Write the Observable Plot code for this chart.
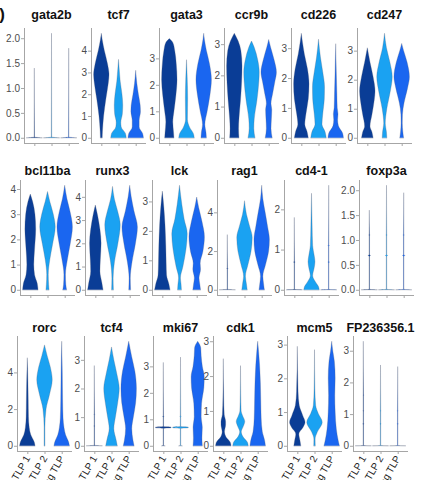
<!DOCTYPE html>
<html><head><meta charset="utf-8">
<script src="https://cdn.jsdelivr.net/npm/d3@7"></script>
<script src="https://cdn.jsdelivr.net/npm/@observablehq/plot@0.6"></script>
<style>
body{margin:0;background:#fff;}
#chart{position:relative;width:421px;height:480px;overflow:hidden;font-family:"Liberation Sans",Arial,sans-serif;}
.ttl{position:absolute;width:90px;text-align:center;font-weight:bold;font-size:12.5px;color:#111;line-height:14px;white-space:nowrap;}
.pnl{position:absolute;}
.tag{position:absolute;left:-25px;top:5px;width:30px;text-align:right;font-weight:bold;font-size:17px;color:#111;}
</style></head><body><div id="chart"></div>
<script>
// ---- data ----
const groups = ["TLP 1", "TLP 2", "cycling TLP"];
const colors = ["#0a3d96", "#1aa2f2", "#1a66f0"];
const genes = ["gata2b","tcf7","gata3","ccr9b","cd226","cd247",
               "bcl11ba","runx3","lck","rag1","cd4-1","foxp3a",
               "rorc","tcf4","mki67","cdk1","mcm5","FP236356.1"];
const tickSteps = [0.5,1,1,1,1,1, 1,1,1,2,1,0.5, 2,1,1,1,1,1];

// violin profiles: [expression, relative half-width] per group (TLP 1, TLP 2, cycling TLP)
const gata2b = [
  [[0,1],[0.015,0.03],[1.4,0]],
  [[0,1],[0.015,0.03],[2.1,0]],
  [[0,1],[0.015,0.03],[1.8,0]]];
const tcf7 = [
  [[0,0.12],[0.3,0.15],[1,0.3],[1.8,0.6],[2.5,0.9],[2.9,1],[3.4,0.8],[4,0.4],[4.5,0.12],[4.8,0]],
  [[0,1],[0.2,0.9],[0.5,0.35],[0.7,0.3],[1.1,0.5],[1.5,0.55],[2.0,0.45],[2.6,0.22],[3.2,0.08],[3.6,0]],
  [[0,1],[0.2,0.9],[0.5,0.45],[0.8,0.45],[1.2,0.62],[1.5,0.58],[2.0,0.35],[2.5,0.15],[3.1,0]]];
const gata3 = [
  [[0,0.6],[0.2,0.55],[0.6,0.45],[1.0,0.6],[1.6,0.85],[2.2,1],[2.8,0.9],[3.3,0.7],[3.6,0.45],[3.75,0]],
  [[0,1],[0.15,0.9],[0.4,0.4],[0.7,0.12],[1.5,0.15],[2.2,0.1],[2.95,0]],
  [[0,0.35],[0.2,0.3],[0.5,0.15],[1.0,0.45],[1.6,0.8],[2.2,1],[2.8,0.75],[3.3,0.35],[3.7,0.1],[3.95,0]]];
const ccr9b = [
  [[0,0.6],[0.3,0.55],[0.6,0.6],[1.2,0.8],[1.8,0.95],[2.3,1],[2.8,0.85],[3.1,0.5],[3.35,0]],
  [[0,0.45],[0.3,0.3],[0.6,0.35],[1.2,0.7],[1.8,0.95],[2.1,1],[2.5,0.8],[2.9,0.35],[3.1,0]],
  [[0,0.45],[0.3,0.3],[0.6,0.35],[0.9,0.4],[1.1,0.3],[1.4,0.5],[1.8,0.8],[2.1,1],[2.5,0.7],[2.9,0.25],[3.15,0]]];
const cd226 = [
  [[0,0.9],[0.2,0.75],[0.45,0.45],[0.8,0.6],[1.3,0.9],[1.8,1],[2.3,0.8],[2.8,0.4],[3.2,0.15],[3.5,0]],
  [[0,1],[0.2,0.85],[0.45,0.45],[0.8,0.55],[1.3,0.75],[1.7,0.78],[2.2,0.55],[2.7,0.25],[3.3,0]],
  [[0,1],[0.15,0.9],[0.4,0.35],[0.6,0.25],[0.8,0.3],[1.0,0.2],[1.5,0.15],[2.2,0.08],[3.15,0]]];
const cd247 = [
  [[0,0.75],[0.2,0.6],[0.4,0.35],[0.8,0.6],[1.3,0.9],[1.6,1],[2.1,0.75],[2.6,0.35],[3.1,0]],
  [[0,0.3],[0.2,0.25],[0.5,0.1],[1.0,0.3],[1.6,0.75],[2.1,1],[2.6,0.7],[3.1,0.25],[3.6,0]],
  [[0,0.25],[0.2,0.15],[0.5,0.08],[0.8,0.1],[1.2,0.3],[1.7,0.75],[2.1,1],[2.6,0.7],[3.0,0.25],[3.25,0]]];
const bcl11ba = [
  [[0,1],[0.25,0.9],[0.6,0.55],[1.0,0.45],[1.6,0.55],[2.4,0.7],[3.0,0.6],[3.5,0.3],[3.8,0]],
  [[0,0.2],[0.2,0.15],[0.6,0.1],[1.2,0.3],[1.8,0.65],[2.5,1],[3.0,0.75],[3.5,0.3],[3.9,0]],
  [[0,0.25],[0.2,0.15],[0.6,0.1],[1.2,0.35],[1.8,0.7],[2.5,1],[3.1,0.7],[3.6,0.3],[4.15,0]]];
const runx3 = [
  [[0,1],[0.3,0.85],[0.8,0.6],[1.3,0.65],[2.0,0.75],[2.6,0.6],[3.2,0.3],[3.65,0]],
  [[0,0.12],[0.5,0.08],[1.2,0.25],[2.0,0.7],[2.8,1],[3.4,0.65],[3.9,0.25],[4.45,0]],
  [[0,0.12],[0.5,0.08],[1.2,0.3],[2.0,0.75],[2.7,1],[3.4,0.55],[4.0,0.2],[4.5,0]]];
const lck = [
  [[0,1],[0.2,0.85],[0.5,0.55],[0.9,0.5],[1.5,0.45],[2.2,0.35],[2.8,0.2],[3.35,0]],
  [[0,0.25],[0.2,0.2],[0.4,0.12],[0.8,0.45],[1.4,0.85],[1.9,1],[2.4,0.6],[2.9,0.3],[3.55,0]],
  [[0,0.5],[0.2,0.4],[0.4,0.3],[0.7,0.5],[0.9,0.45],[1.3,0.8],[1.8,1],[2.3,0.7],[2.8,0.25],[3.15,0]]];
const rag1 = [
  [[0,1],[0.03,0.03],[1.07,0.03],[1.1,0.08],[1.13,0.03],[2.85,0]],
  [[0,0.35],[0.3,0.25],[0.7,0.12],[1.3,0.45],[2.0,0.85],[2.7,1],[3.3,0.65],[3.9,0.25],[4.6,0]],
  [[0,0.35],[0.3,0.25],[0.7,0.15],[1.3,0.5],[2.0,0.9],[2.6,1],[3.3,0.75],[4.0,0.45],[4.7,0.15],[5.4,0]]];
const cd4_1 = [
  [[0,1],[0.01,0.03],[0.67,0.03],[0.69,0.1],[0.71,0.03],[1.8,0]],
  [[0,1],[0.08,0.9],[0.2,0.5],[0.35,0.15],[0.55,0.35],[0.7,0.45],[0.85,0.35],[1.1,0.15],[1.6,0.08],[2.4,0]],
  [[0,1],[0.01,0.03],[0.67,0.03],[0.69,0.1],[0.71,0.03],[1.08,0.03],[1.1,0.08],[1.12,0.03],[2.6,0]]];
const foxp3a = [
  [[0,1],[0.01,0.03],[0.67,0.03],[0.69,0.14],[0.71,0.03],[1.08,0.03],[1.1,0.06],[1.12,0.03],[1.6,0]],
  [[0,1],[0.01,0.03],[0.67,0.03],[0.69,0.14],[0.71,0.03],[1.08,0.03],[1.1,0.06],[1.12,0.03],[2.1,0]],
  [[0,1],[0.01,0.03],[0.67,0.03],[0.69,0.14],[0.71,0.03],[1.08,0.03],[1.1,0.06],[1.12,0.03],[1.95,0]]];
const rorc = [
  [[0,1],[0.2,0.9],[0.6,0.45],[1.0,0.25],[1.6,0.15],[2.5,0.12],[3.5,0.08],[4.8,0]],
  [[0,0.05],[1.0,0.05],[2.0,0.2],[2.8,0.65],[3.6,1],[4.3,0.75],[4.9,0.35],[5.5,0]],
  [[0,1],[0.2,0.9],[0.6,0.5],[1.0,0.3],[1.5,0.18],[2.5,0.12],[4.0,0.08],[5.7,0]]];
const tcf4 = [
  [[0,1],[0.02,0.03],[0.67,0.03],[0.69,0.08],[0.71,0.03],[1.08,0.03],[1.1,0.06],[1.12,0.03],[2.8,0]],
  [[0,0.75],[0.2,0.6],[0.6,0.3],[1.0,0.5],[1.5,0.8],[2.0,1],[2.5,0.7],[3.0,0.3],[3.45,0]],
  [[0,0.7],[0.2,0.55],[0.6,0.4],[1.0,0.6],[1.5,0.9],[2.0,1],[2.6,0.8],[3.1,0.4],[3.65,0]]];
const mki67 = [
  [[0,0.2],[0.02,0.03],[0.66,0.03],[0.68,1],[0.71,1],[0.73,0.03],[1.08,0.03],[1.1,0.1],[1.12,0.03],[3.15,0]],
  [[0,0.2],[0.02,0.03],[0.66,0.03],[0.68,1],[0.71,1],[0.73,0.03],[1.08,0.03],[1.1,0.1],[1.12,0.03],[3.35,0]],
  [[0,0.6],[0.3,0.55],[0.7,0.6],[1.1,0.45],[1.6,0.5],[2.2,0.8],[2.6,0.85],[3.0,0.6],[3.4,0.45],[3.7,0.4],[3.95,0]]];
const cdk1 = [
  [[0,1],[0.1,0.9],[0.25,0.35],[0.4,0.15],[0.6,0.3],[0.7,0.3],[0.9,0.12],[1.4,0.05],[2.5,0]],
  [[0,1],[0.1,0.9],[0.25,0.35],[0.4,0.1],[0.55,0.35],[0.7,0.55],[0.85,0.3],[1.0,0.08],[1.5,0.03],[2.3,0]],
  [[0,1],[0.15,0.9],[0.4,0.6],[0.8,0.45],[1.3,0.4],[1.8,0.35],[2.3,0.25],[2.7,0.12],[3.0,0]]];
const mcm5 = [
  [[0,0.45],[0.15,0.35],[0.35,0.2],[0.55,0.75],[0.7,1],[0.9,0.7],[1.2,0.25],[1.6,0.1],[2.95,0]],
  [[0,0.1],[0.2,0.08],[0.4,0.35],[0.7,1],[0.95,0.5],[1.2,0.15],[1.7,0.05],[2.85,0]],
  [[0,1],[0.15,0.85],[0.5,0.6],[1.0,0.45],[1.5,0.4],[2.0,0.45],[2.5,0.35],[2.8,0.15],[3.1,0]]];
const fp236356 = [
  [[0,1],[0.01,0.03],[0.67,0.03],[0.69,0.08],[0.71,0.03],[1.08,0.03],[1.1,0.06],[1.12,0.03],[1.58,0.03],[1.6,0.06],[1.62,0.03],[3.3,0]],
  [[0,1],[0.01,0.03],[0.67,0.03],[0.69,0.08],[0.71,0.03],[1.08,0.03],[1.1,0.06],[1.12,0.03],[2.55,0]],
  [[0,1],[0.01,0.03],[0.67,0.03],[0.69,0.08],[0.71,0.03],[1.08,0.03],[1.1,0.06],[1.12,0.03],[2.5,0]]];
const profiles = [gata2b, tcf7, gata3, ccr9b, cd226, cd247,
                  bcl11ba, runx3, lck, rag1, cd4_1, foxp3a,
                  rorc, tcf4, mki67, cdk1, mcm5, fp236356];

// ---- layout ----
const axisXs = [[24, 91, 159, 224, 291, 357], [20, 85, 152, 217, 284, 359], [17, 84, 153, 213, 287, 353]];
const rowTops = [28, 180, 336];
const titleYs = [8, 164, 321];
const PW = 55, PH = 115;
const axisGray = "#a6a6a6";

const chart = document.getElementById("chart");
const tag = document.createElement("div");
tag.className = "tag"; tag.textContent = "D)";
chart.appendChild(tag);

genes.forEach((gene, i) => {
  const row = Math.floor(i / 6), col = i % 6;
  const rows = [];
  profiles[i].forEach((pts, gi) => pts.forEach(([y, w]) => rows.push({group: groups[gi], g: gi + 1, y, w})));
  const ymax = d3.max(rows, d => d.y);
  const pad = ymax * 0.05;
  const step = tickSteps[i];
  const ticks = d3.range(0, ymax + 1e-9, step);
  const fmt = step < 1 ? d3.format(".1f") : d3.format("d");
  const last = row === 2;
  const ml = 30, mt = 4, mr = 6, mb = last ? 60 : 8;
  const svg = Plot.plot({
    width: ml + PW + mr, height: mt + PH + mb,
    marginLeft: ml, marginTop: mt, marginRight: mr, marginBottom: mb,
    x: {domain: [0.4, 3.6], label: null},
    y: {domain: [-pad, ymax + pad], label: null},
    color: {domain: groups, range: colors},
    style: {fontFamily: "'Liberation Sans', Arial, sans-serif", background: "transparent", overflow: "visible"},
    marks: [
      Plot.ruleX([0.4], {stroke: axisGray}),
      Plot.ruleY([-pad], {stroke: axisGray}),
      Plot.axisY(ticks, {label: null, tickFormat: fmt, tickSize: 3, tickPadding: 1.5, fontSize: 10, stroke: axisGray, fill: "#4d4d4d"}),
      Plot.axisX([1, 2, 3], {
        label: null, tickSize: 3, tickPadding: 2, fontSize: 10, stroke: axisGray, fill: "#222",
        tickFormat: last ? (v => groups[v - 1]) : (() => ""),
        tickRotate: last ? -60 : 0
      }),
      Plot.areaX(rows, {
        y: "y", x1: d => d.g - 0.45 * d.w, x2: d => d.g + 0.45 * d.w,
        z: "group", fill: "group", stroke: "#52607a", strokeWidth: 0.5, strokeOpacity: 0.55,
        curve: "monotone-y"
      })
    ]
  });
  svg.classList.add("pnl");
  svg.style.left = (axisXs[row][col] - ml) + "px";
  svg.style.top = (rowTops[row] - mt) + "px";
  chart.appendChild(svg);

  const t = document.createElement("div");
  t.className = "ttl";
  t.textContent = gene;
  t.style.left = (axisXs[row][col] + PW / 2 - 45) + "px";
  t.style.top = titleYs[row] + "px";
  chart.appendChild(t);
});
</script></body></html>
